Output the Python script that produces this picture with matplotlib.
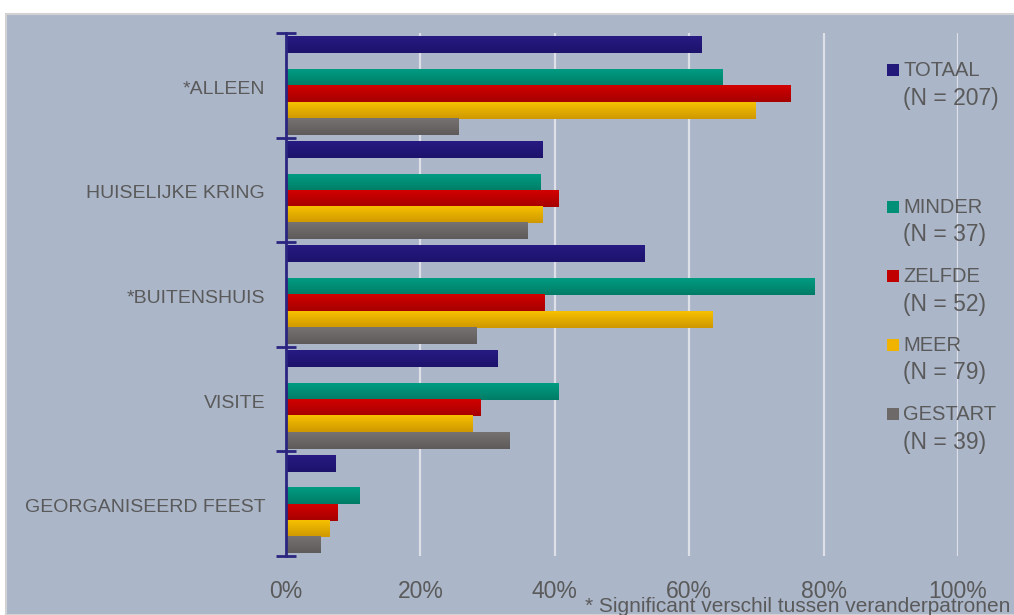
import numpy as np
import matplotlib
matplotlib.use("Agg")
import matplotlib.pyplot as plt
from matplotlib.patches import Rectangle
from matplotlib.colors import LinearSegmentedColormap

plt.rcParams['font.family'] = ['Liberation Sans', 'DejaVu Sans']

categories = ['*ALLEEN', 'HUISELIJKE KRING', '*BUITENSHUIS', 'VISITE', 'GEORGANISEERD FEEST']
series = ['TOTAAL', 'MINDER', 'ZELFDE', 'MEER', 'GESTART']
counts = ['(N = 207)', '(N = 37)', '(N = 52)', '(N = 79)', '(N = 39)']
totaal = [61.9, 38.2, 53.3, 31.5, 7.3]
minder = [65.0, 37.9, 78.6, 40.6, 10.9]
zelfde = [75.1, 40.5, 38.5, 28.9, 7.7]
meer = [69.8, 38.1, 63.4, 27.8, 6.4]
gestart = [25.7, 36.0, 28.3, 33.3, 5.2]
values = [totaal, minder, zelfde, meer, gestart]
colors = ['#23197a', '#009078', '#c00000', '#f0b400', '#6d6968']
# top / bottom shades for the soft vertical gradient on the bars
grad_top = ['#271a82', '#009c82', '#d20000', '#f6c000', '#767272']
grad_bot = ['#1d136c', '#007c66', '#a60000', '#cf9800', '#5f5b5b']
xticks = [0, 20, 40, 60, 80, 100]

txt = '#5a5a5a'
navy = '#2b2580'

fig = plt.figure(figsize=(10.14, 6.15), dpi=100)
fig.patch.set_facecolor('white')
fig.patches.append(Rectangle((6 / 1014, 0), 1, 1 - 14 / 615, transform=fig.transFigure,
                             facecolor='#abb6c9', edgecolor='#d2d2d2', linewidth=1.5, zorder=-5))

ax = fig.add_axes([286 / 1014, 1 - 556 / 615, 672 / 1014, 523 / 615])
ax.set_facecolor('none')
ax.set_zorder(2)

slot = 0.156
offset = 0.038
slots = [0, 2, 3, 4, 5]
idx = np.arange(len(categories))
grad = np.linspace(0, 1, 32).reshape(-1, 1)
for k, (vals, col) in enumerate(zip(values, colors)):
    bars = ax.barh(idx + offset + slots[k] * slot, vals, height=slot, align='edge',
                   color=col, zorder=3)
    cmap = LinearSegmentedColormap.from_list('g%d' % k, [grad_top[k], grad_bot[k]])
    for b in bars:
        x0, y0, w, h = b.get_x(), b.get_y(), b.get_width(), b.get_height()
        ax.imshow(grad, cmap=cmap, aspect='auto', extent=[x0, x0 + w, y0 + h, y0],
                  zorder=3.5, interpolation='bilinear')

ax.set_xlim(0, 100)
ax.set_ylim(len(categories), 0)
ax.set_xticks(xticks)
ax.set_xticklabels([f'{v}%' for v in xticks], color=txt, fontsize=16.5)
ax.tick_params(axis='x', length=0, pad=17)
ax.grid(axis='x', color='#dde0e6', linewidth=1.6, zorder=1)
ax.set_axisbelow(True)

ax.set_yticks(np.arange(len(categories) + 1))
ax.set_yticklabels([])
ax.tick_params(axis='y', which='major', direction='inout', length=14, width=2, color=navy)
ax.set_yticks(idx + 0.52, minor=True)
ax.set_yticklabels(categories, minor=True, color=txt, fontsize=14)
ax.tick_params(axis='y', which='minor', length=0, pad=15)

for s in ['top', 'right', 'bottom']:
    ax.spines[s].set_visible(False)
ax.spines['left'].set_color(navy)
ax.spines['left'].set_linewidth(2)
ax.spines['left'].set_zorder(4)

# legend placed by hand, uneven spacing like the original
leg_y = [70, 207, 276, 345, 414]
for name, n, col, y in zip(series, counts, colors, leg_y):
    fig.patches.append(Rectangle((887 / 1014, 1 - (y + 6) / 615), 12 / 1014, 12 / 615,
                                 transform=fig.transFigure, facecolor=col, zorder=2))
    fig.text(903 / 1014, 1 - y / 615, name, color=txt, fontsize=14.5, va='center', ha='left')
    fig.text(903 / 1014, 1 - (y + 28) / 615, n, color=txt, fontsize=16.5, va='center', ha='left')

fig.text(585 / 1014, 1 - 606 / 615, '* Significant verschil tussen veranderpatronen',
         color=txt, fontsize=15, va='center', ha='left')

fig.savefig('out.png', dpi=100)
